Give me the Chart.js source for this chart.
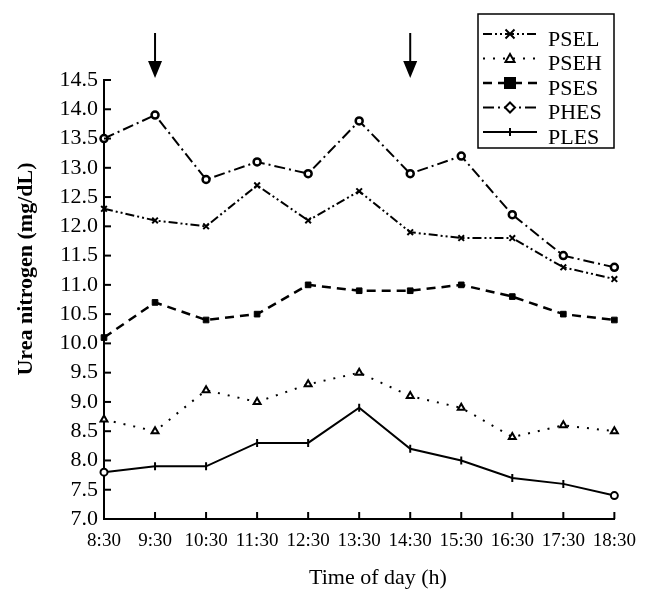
<!DOCTYPE html>
<html>
<head>
<meta charset="utf-8">
<script src="https://cdn.jsdelivr.net/npm/chart.js@4/dist/chart.umd.min.js"></script>
<style>
  html, body { margin: 0; padding: 0; background: #fff; }
  #wrap { width: 647px; height: 590px; }
</style>
</head>
<body>
<div id="wrap"><canvas id="ureaChart" width="647" height="590"></canvas></div>
<script>
// Values
const times = ['8:30', '9:30', '10:30', '11:30', '12:30', '13:30', '14:30', '15:30', '16:30', '17:30', '18:30'];
const psel = [12.3, 12.1, 12.0, 12.7, 12.1, 12.6, 11.9, 11.8, 11.8, 11.3, 11.1];
const pseh = [8.7, 8.5, 9.2, 9.0, 9.3, 9.5, 9.1, 8.9, 8.4, 8.6, 8.5];
const pses = [10.1, 10.7, 10.4, 10.5, 11.0, 10.9, 10.9, 11.0, 10.8, 10.5, 10.4];
const phes = [13.5, 13.9, 12.8, 13.1, 12.9, 13.8, 12.9, 13.2, 12.2, 11.5, 11.3];
const ples = [7.8, 7.9, 7.9, 8.3, 8.3, 8.9, 8.2, 8.0, 7.7, 7.6, 7.4];
const yMin = 7.0, yMax = 14.5, yStep = 0.5;
const arrowTimes = ['9:30', '14:30'];

const SERIF = '"Liberation Serif", "DejaVu Serif", serif';

// PLES uses small bar markers, open circles on the first and last point
const plesStyles = ples.map((v, i) => (i === 0 || i === ples.length - 1) ? 'circle' : 'line');
const plesRot = ples.map((v, i) => (i === 0 || i === ples.length - 1) ? 0 : 90);
const plesRad = ples.map((v, i) => (i === 0 || i === ples.length - 1) ? 3.5 : 4);

function drawMarker(ctx, style, x, y, r, fill, rot) {
    ctx.save();
    ctx.translate(x, y);
    ctx.rotate((rot || 0) * Math.PI / 180);
    ctx.beginPath();
    if (style === 'crossRot') {
        ctx.moveTo(-r, -r); ctx.lineTo(r, r);
        ctx.moveTo(-r, r); ctx.lineTo(r, -r);
        ctx.stroke();
    } else if (style === 'triangle') {
        ctx.moveTo(0, -r); ctx.lineTo(r, r * 0.75); ctx.lineTo(-r, r * 0.75); ctx.closePath();
        ctx.fillStyle = fill; ctx.fill(); ctx.stroke();
    } else if (style === 'rect') {
        ctx.rect(-r, -r, 2 * r, 2 * r);
        ctx.fillStyle = fill; ctx.fill(); ctx.stroke();
    } else if (style === 'rectRot') {
        ctx.moveTo(0, -r); ctx.lineTo(r, 0); ctx.lineTo(0, r); ctx.lineTo(-r, 0); ctx.closePath();
        ctx.fillStyle = fill; ctx.fill(); ctx.stroke();
    } else if (style === 'line') {
        ctx.moveTo(-r, 0); ctx.lineTo(r, 0);
        ctx.stroke();
    } else {
        ctx.arc(0, 0, r, 0, Math.PI * 2);
        ctx.fillStyle = fill; ctx.fill(); ctx.stroke();
    }
    ctx.restore();
}

// inward tick marks, axis titles, arrows and the boxed legend
const decorations = {
    id: 'decorations',
    afterDraw(chart) {
        const ctx = chart.ctx;
        const xs = chart.scales.x, ys = chart.scales.y;
        const area = chart.chartArea;
        ctx.save();
        ctx.strokeStyle = '#000';
        ctx.fillStyle = '#000';
        ctx.lineWidth = 2;
        ctx.setLineDash([]);

        // ticks pointing into the plot
        ys.ticks.forEach((t, i) => {
            const py = ys.getPixelForTick(i);
            ctx.beginPath(); ctx.moveTo(area.left, py); ctx.lineTo(area.left + 7, py); ctx.stroke();
        });
        xs.ticks.forEach((t, i) => {
            const px = xs.getPixelForTick(i);
            ctx.beginPath(); ctx.moveTo(px, area.bottom); ctx.lineTo(px, area.bottom - 7); ctx.stroke();
        });

        // axis titles
        ctx.font = '22px ' + SERIF;
        ctx.textAlign = 'center';
        ctx.textBaseline = 'alphabetic';
        ctx.fillText('Time of day (h)', 378, 584);
        ctx.save();
        ctx.translate(32, 269);
        ctx.rotate(-Math.PI / 2);
        ctx.font = 'bold 22px ' + SERIF;
        ctx.fillText('Urea nitrogen (mg/dL)', 0, 0);
        ctx.restore();

        // arrows above the plot
        arrowTimes.forEach(t => {
            const px = xs.getPixelForValue(times.indexOf(t));
            ctx.beginPath(); ctx.moveTo(px, 33); ctx.lineTo(px, 64); ctx.stroke();
            ctx.beginPath();
            ctx.moveTo(px - 7, 61); ctx.lineTo(px + 7, 61); ctx.lineTo(px, 78); ctx.closePath();
            ctx.fill();
        });

        // legend
        const box = { left: 478, top: 14, right: 614, bottom: 148 };
        ctx.fillStyle = '#fff';
        ctx.fillRect(box.left, box.top, box.right - box.left, box.bottom - box.top);
        ctx.lineWidth = 1.5;
        ctx.strokeRect(box.left, box.top, box.right - box.left, box.bottom - box.top);
        chart.data.datasets.forEach((ds, i) => {
            const ly = box.top + 20 + i * 24.5;
            ctx.strokeStyle = '#000';
            ctx.lineWidth = ds.borderWidth;
            ctx.setLineDash(ds.borderDash || []);
            ctx.beginPath(); ctx.moveTo(483, ly); ctx.lineTo(537, ly); ctx.stroke();
            ctx.setLineDash([]);
            ctx.lineWidth = 2;
            drawMarker(ctx, ds.legendStyle, 510, ly, ds.legendRadius, ds.pointBackgroundColor, ds.legendRot);
            ctx.fillStyle = '#000';
            ctx.font = '22px ' + SERIF;
            ctx.textAlign = 'left';
            ctx.textBaseline = 'middle';
            ctx.fillText(ds.label, 548, ly + 6);
        });
        ctx.restore();
    }
};

new Chart(document.getElementById('ureaChart'), {
    type: 'line',
    data: {
        labels: times,
        datasets: [
            {
                label: 'PSEL', data: psel,
                borderColor: '#000', borderWidth: 2, borderDash: [9, 3, 2, 3, 2, 3],
                pointStyle: 'crossRot', pointRadius: 4, pointBorderWidth: 2,
                pointBorderColor: '#000', pointBackgroundColor: '#000',
                legendStyle: 'crossRot', legendRadius: 4.5, legendRot: 0
            },
            {
                label: 'PSEH', data: pseh,
                borderColor: '#000', borderWidth: 2, borderDash: [2, 8],
                pointStyle: 'triangle', pointRadius: 4, pointBorderWidth: 2,
                pointBorderColor: '#000', pointBackgroundColor: '#fff',
                legendStyle: 'triangle', legendRadius: 4.5, legendRot: 0
            },
            {
                label: 'PSES', data: pses,
                borderColor: '#000', borderWidth: 2.5, borderDash: [9, 6],
                pointStyle: 'rect', pointRadius: 4, pointBorderWidth: 1,
                pointBorderColor: '#000', pointBackgroundColor: '#000',
                legendStyle: 'rect', legendRadius: 5, legendRot: 0
            },
            {
                label: 'PHES', data: phes,
                borderColor: '#000', borderWidth: 2, borderDash: [11, 4, 2, 4],
                pointStyle: 'circle', pointRadius: 3.5, pointBorderWidth: 2.5,
                pointBorderColor: '#000', pointBackgroundColor: '#fff',
                legendStyle: 'rectRot', legendRadius: 5, legendRot: 0
            },
            {
                label: 'PLES', data: ples,
                borderColor: '#000', borderWidth: 2, borderDash: [],
                pointStyle: plesStyles, rotation: plesRot, pointRadius: plesRad, pointBorderWidth: 2,
                pointBorderColor: '#000', pointBackgroundColor: '#fff',
                legendStyle: 'line', legendRadius: 4, legendRot: 90
            }
        ]
    },
    options: {
        responsive: false,
        animation: false,
        layout: { padding: { top: 80, right: 28, left: 0, bottom: 0 } },
        plugins: {
            legend: { display: false },
            title: { display: false },
            tooltip: { enabled: false }
        },
        elements: { line: { tension: 0, fill: false } },
        scales: {
            x: {
                offset: false,
                grid: { display: false, drawTicks: false },
                border: { display: true, color: '#000', width: 2 },
                ticks: { color: '#000', font: { family: SERIF, size: 19 }, padding: 11, maxRotation: 0, autoSkip: false },
                afterFit: s => { s.height = 71; }
            },
            y: {
                min: yMin, max: yMax,
                grid: { display: false, drawTicks: false },
                border: { display: true, color: '#000', width: 2 },
                ticks: {
                    stepSize: yStep, color: '#000', padding: 6, autoSkip: false,
                    font: { family: SERIF, size: 22 },
                    callback: v => Number(v).toFixed(1)
                },
                afterFit: s => { s.width = 104; }
            }
        }
    },
    plugins: [decorations]
});
</script>
</body>
</html>
